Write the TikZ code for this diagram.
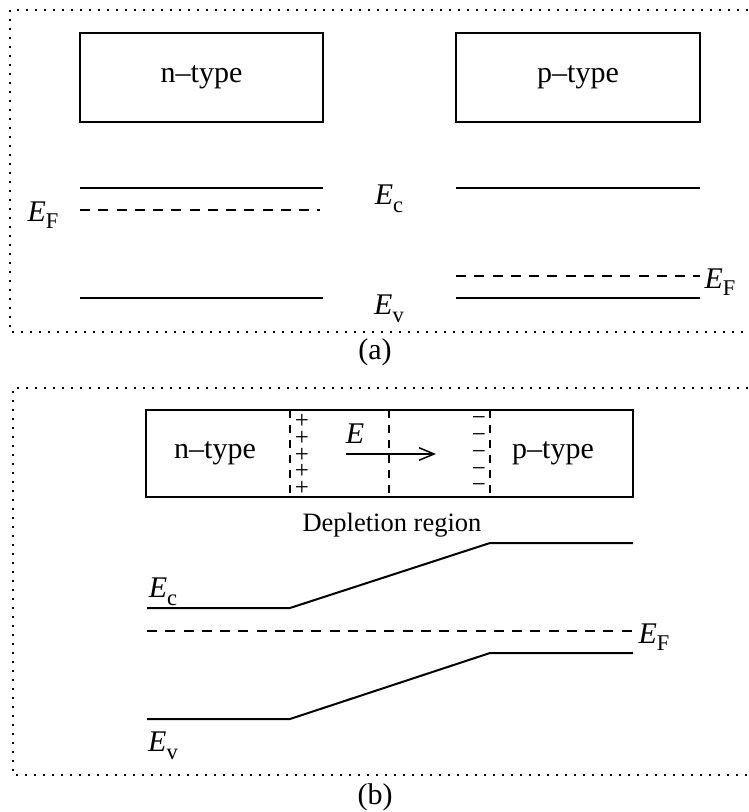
\documentclass[tikz,border=0pt]{standalone}
\usepackage{fontspec}
\setmainfont{Liberation Serif}
\usetikzlibrary{arrows.meta}

\newcommand{\lev}[1]{\textit{E}\raisebox{-0.55ex}{\fontsize{9}{9}\selectfont #1}}

\begin{document}
\begin{tikzpicture}[x=0.4pt, y=-0.4pt, font=\fontsize{12}{14}\selectfont,
    band/.style={line width=0.8pt},
    fermi/.style={line width=0.8pt, dash pattern=on 4pt off 3.3pt},
    frame/.style={line width=0.9pt, dash pattern=on 0.9pt off 2.7pt},
    junc/.style={line width=0.8pt, dash pattern=on 3pt off 3pt},
    slab/.style={draw, line width=0.8pt, inner sep=0pt},
    chg/.style={font=\fontsize{10}{6.7}\selectfont, inner sep=0pt, align=center}]
    \useasboundingbox (0,0) rectangle (748,812);

    % (a) separate materials
    \draw[frame] (748,10) -- (10,10) -- (10,332) -- (748,332);
    \node[slab, minimum width=97.2pt, minimum height=35.6pt] (na) at (201.5,77.5) {n--type};
    \node[slab, minimum width=97.6pt, minimum height=35.6pt] (pa) at (578,77.5) {p--type};
    \draw[band] (80,188) -- (323,188);
    \draw[band] (456,188) -- (700,188);
    \draw[fermi] (80,210) -- (320,210);
    \draw[fermi] (456,276) -- (700,276);
    \draw[band] (80,298) -- (323,298);
    \draw[band] (456,298) -- (700,298);
    \node (eca) at (389,199) {\lev{c}};
    \node (eva) at (389,309) {\lev{v}};
    \node (efna) at (43,215) {\lev{F}};
    \node (efpa) at (720,282) {\lev{F}};
    \node (capa) at (375,352) {(a)};

    % (b) junction
    \draw[frame] (748,388) -- (13,388) -- (13,775) -- (748,775);
    \node[slab, minimum width=194.8pt, minimum height=34.8pt] (jb) at (389.5,453.5) {};
    \node (nb) at (215,453) {n--type};
    \node (pb) at (553,453) {p--type};
    \draw[junc] (290,410) -- (290,497);
    \draw[junc] (389,410) -- (389,497);
    \draw[junc] (490,410) -- (490,497);
    \node[chg] (plus) at (302,455) {+\\+\\+\\+\\+};
    \node[chg] (minus) at (479,455) {−\\−\\−\\−\\−};
    \coordinate (fs) at (346,454);
    \coordinate (fe) at (436,454);
    \draw[-{Straight Barb[length=6pt, width=5pt]}, line width=0.6pt] (fs) -- (fe);
    \node (field) at (355,434) {\textit{E}};
    \node[font=\fontsize{10.6}{12}\selectfont] (depl) at (392,525) {Depletion region};

    % bands
    \draw[band] (147,608) -- (290,608) -- (490,543) -- (633,543);
    \draw[fermi] (147,631) -- (633,631);
    \draw[band] (147,719) -- (290,719) -- (490,653) -- (633,653);
    \node (ecb) at (163,592) {\lev{c}};
    \node (evb) at (163,746) {\lev{v}};
    \node (efb) at (654,637) {\lev{F}};
    \node (capb) at (375,797) {(b)};
\end{tikzpicture}
\end{document}
